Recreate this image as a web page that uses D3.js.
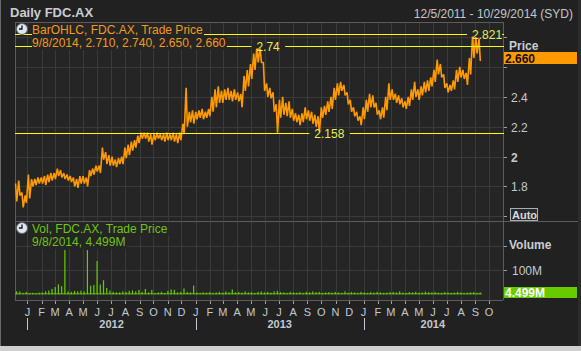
<!DOCTYPE html>
<html>
<head>
<meta charset="utf-8">
<script src="https://cdn.jsdelivr.net/npm/d3@7"></script>
<style>
  body { margin: 0; background: #212121; }
  svg { display: block; }
</style>
</head>
<body>
<div id="chart"></div>
<script>
// weekly high / low of the daily OHLC bars (week starting Monday)
const weekHigh = [
  1.82,1.84,1.76,1.74,1.88,1.85,1.85,1.86,1.86,1.87,
  1.88,1.89,1.89,1.92,1.91,1.89,1.88,1.87,1.86,1.85,
  1.87,1.87,1.86,1.91,1.92,1.94,1.94,2.06,2.03,2.01,
  2.00,1.98,1.99,2.00,2.06,2.08,2.10,2.11,2.14,2.16,
  2.16,2.16,2.15,2.15,2.16,2.15,2.15,2.16,2.15,2.16,
  2.15,2.16,2.22,2.46,2.30,2.31,2.30,2.31,2.32,2.30,
  2.32,2.40,2.45,2.47,2.44,2.45,2.46,2.44,2.45,2.43,
  2.42,2.54,2.58,2.62,2.69,2.74,2.73,2.63,2.49,2.46,
  2.43,2.35,2.38,2.40,2.36,2.37,2.32,2.29,2.28,2.29,
  2.33,2.31,2.30,2.28,2.27,2.33,2.34,2.37,2.40,2.46,
  2.49,2.50,2.48,2.43,2.38,2.33,2.30,2.27,2.33,2.38,
  2.42,2.41,2.36,2.31,2.33,2.40,2.49,2.45,2.42,2.41,
  2.39,2.37,2.40,2.45,2.50,2.45,2.47,2.50,2.51,2.53,
  2.58,2.65,2.62,2.55,2.49,2.48,2.51,2.58,2.60,2.58,
  2.56,2.66,2.821,2.80,2.79
];
const weekLow = [
  1.70,1.74,1.66,1.69,1.72,1.80,1.81,1.82,1.82,1.81,
  1.83,1.84,1.85,1.87,1.86,1.85,1.84,1.83,1.80,1.79,
  1.82,1.82,1.80,1.87,1.88,1.90,1.89,1.98,1.95,1.94,
  1.94,1.93,1.95,1.95,1.99,2.01,2.04,2.06,2.09,2.12,
  2.12,2.10,2.08,2.11,2.12,2.11,2.10,2.11,2.11,2.10,
  2.09,2.11,2.15,2.20,2.23,2.22,2.25,2.26,2.25,2.26,
  2.27,2.30,2.33,2.36,2.36,2.38,2.38,2.37,2.38,2.37,
  2.33,2.44,2.47,2.52,2.58,2.63,2.63,2.44,2.40,2.39,
  2.30,2.16,2.26,2.28,2.27,2.26,2.24,2.23,2.21,2.23,
  2.25,2.24,2.22,2.20,2.158,2.26,2.28,2.30,2.32,2.38,
  2.41,2.44,2.41,2.35,2.30,2.27,2.24,2.21,2.25,2.30,
  2.33,2.33,2.28,2.25,2.26,2.31,2.38,2.38,2.36,2.35,
  2.33,2.32,2.34,2.38,2.40,2.38,2.41,2.43,2.44,2.47,
  2.50,2.55,2.53,2.46,2.43,2.44,2.45,2.50,2.53,2.52,
  2.48,2.55,2.66,2.69,2.64
];
// largest daily volume of each week, millions
const weekVol = [
  12,12,6,10,5,6,5,7,8,12,
  15,22,30,41,33,182,12,10,14,12,
  15,12,182,35,38,137,40,58,26,15,
  10,8,8,12,10,14,16,12,18,10,
  22,8,18,6,8,10,6,14,20,18,
  8,10,24,10,8,36,8,6,8,7,
  9,6,8,10,7,12,9,20,8,10,
  7,12,8,9,6,10,12,8,10,7,
  12,14,9,8,6,10,8,7,9,6,
  10,8,12,9,10,6,8,9,7,10,
  8,6,12,7,9,8,6,10,8,6,
  9,7,10,8,6,7,9,10,8,12,
  7,6,9,8,10,7,8,11,9,8,
  10,7,6,9,8,6,7,10,8,6,
  7,8,9,6,8
];
const baseVol = 4; // typical daily volume, millions

const annoValues = [2.821, 2.74, 2.158];
const annoLabels = ["2.821", "2.74", "2.158"];
const annoDates = [new Date(2014, 7, 25), new Date(2013, 4, 13), new Date(2013, 8, 16)];

const priceTicks = [1.6, 1.8, 2.0, 2.2, 2.4, 2.6, 2.8];
const priceTickLabels = ["", "1.8", "2", "2.2", "2.4", "", ""];
const volTicks = [100, 200];
const volTickLabels = ["100M", ""];
const monthLetters = ["J","F","M","A","M","J","J","A","S","O","N","D"];

const titleText = "Daily FDC.AX";
const rangeText = "12/5/2011 - 10/29/2014 (SYD)";
const priceLegend = ["BarOHLC, FDC.AX, Trade Price", "9/8/2014, 2.710, 2.740, 2.650, 2.660"];
const volLegend = ["Vol, FDC.AX, Trade Price", "9/8/2014, 4.499M"];
const lastPrice = "2.660";
const lastVol = "4.499M";

const W = 581, H = 351;
const plotL = 15, plotR = 503;
const priceTop = 22, priceBot = 221, volBot = 300;
const font = "'Liberation Sans', Arial, sans-serif";

const startDate = new Date(2011, 11, 5), endDate = new Date(2014, 9, 29);
const weeks = d3.timeMonday.range(startDate, new Date(2014, 8, 9));

const x = d3.scaleTime().domain([startDate, endDate]).range([plotL, plotR - 1]);
const y = d3.scaleLinear().domain([1.569, 2.901]).range([priceBot, priceTop]);
const yv = d3.scaleLinear().domain([0, 300]).range([294.3, 221.4]);

const svg = d3.select("#chart").append("svg")
  .attr("width", W).attr("height", H)
  .style("font-family", font);

// window background and frame
svg.append("rect").attr("width", W).attr("height", H).attr("fill", "#212121");
svg.append("line").attr("x1", 0.5).attr("x2", 0.5).attr("y1", 0).attr("y2", 346)
  .attr("stroke", "#6a6a6a");
svg.append("rect").attr("x", 0).attr("y", 346).attr("width", W).attr("height", 5).attr("fill", "#cfcfcf");
svg.append("rect").attr("x", 578).attr("y", 0).attr("width", 3).attr("height", 346).attr("fill", "#2c2c2c");

svg.append("text").attr("x", 10).attr("y", 17)
  .attr("font-size", 13).attr("font-weight", "bold").attr("fill", "#c9cdd2")
  .text(titleText);
svg.append("text").attr("x", 573).attr("y", 18).attr("text-anchor", "end")
  .attr("font-size", 12).attr("fill", "#c2c6cb")
  .text(rangeText);

// plot panels
svg.append("rect").attr("x", plotL).attr("y", priceTop)
  .attr("width", plotR - plotL).attr("height", volBot - priceTop).attr("fill", "#252525");

const months = d3.timeMonth.range(startDate, endDate);
const grid = svg.append("g").attr("stroke", "#3a3a3a").attr("stroke-width", 1);
grid.selectAll(".vg").data(months).enter().append("line")
  .attr("x1", d => Math.round(x(d)) + 0.5).attr("x2", d => Math.round(x(d)) + 0.5)
  .attr("y1", priceTop).attr("y2", volBot);
grid.selectAll(".hg").data(priceTicks).enter().append("line")
  .attr("x1", plotL).attr("x2", plotR)
  .attr("y1", d => Math.round(y(d)) + 0.5).attr("y2", d => Math.round(y(d)) + 0.5);
grid.selectAll(".hv").data(volTicks).enter().append("line")
  .attr("x1", plotL).attr("x2", plotR)
  .attr("y1", d => Math.round(yv(d)) + 0.5).attr("y2", d => Math.round(yv(d)) + 0.5);

// frame lines
const frame = svg.append("g").attr("stroke", "#5c5c5c");
frame.append("line").attr("x1", plotL + 0.5).attr("x2", plotL + 0.5).attr("y1", priceTop).attr("y2", volBot);
frame.append("line").attr("x1", plotR + 0.5).attr("x2", plotR + 0.5).attr("y1", priceTop).attr("y2", volBot);
frame.append("line").attr("x1", plotL).attr("x2", plotR).attr("y1", priceTop + 0.5).attr("y2", priceTop + 0.5);
frame.append("line").attr("x1", plotL).attr("x2", 578).attr("y1", priceBot + 0.5).attr("y2", priceBot + 0.5);
frame.append("line").attr("x1", plotL).attr("x2", plotR).attr("y1", volBot + 0.5).attr("y2", volBot + 0.5);

// price: each week drawn as a high -> low stroke so the bars read as a dense jagged band
const weekW = d => x(d3.timeDay.offset(d, 7)) - x(d);
const pricePts = [];
weeks.forEach((d, i) => {
  pricePts.push([x(d) + 0.5, y(weekHigh[i])]);
  pricePts.push([x(d) + weekW(d) * 0.55, y(weekLow[i])]);
});
svg.append("path")
  .attr("d", d3.line()(pricePts))
  .attr("fill", "none")
  .attr("stroke", "#ff9900")
  .attr("stroke-width", 1.6)
  .attr("stroke-linejoin", "bevel");

// volume bars
const vol = svg.append("g").attr("fill", "#66cc00");
vol.selectAll(".vb").data(weeks).enter().append("rect")
  .attr("x", d => x(d)).attr("width", d => weekW(d))
  .attr("y", yv(baseVol)).attr("height", yv(0) - yv(baseVol));
vol.selectAll(".vs").data(weeks).enter().append("rect")
  .attr("x", d => x(d) + 1).attr("width", 1.2)
  .attr("y", (d, i) => yv(weekVol[i]))
  .attr("height", (d, i) => yv(0) - yv(weekVol[i]));

// annotation levels
const anno = svg.append("g");
annoValues.forEach((v, i) => {
  const yy = Math.round(y(v)) + 0.5;
  anno.append("line").attr("x1", plotL).attr("x2", plotR)
    .attr("y1", yy).attr("y2", yy).attr("stroke", "#ffff00");
  anno.append("line").attr("x1", plotR - 2).attr("x2", plotR + 1)
    .attr("y1", yy).attr("y2", yy).attr("stroke", "#ffff00");
  const bg = anno.append("rect").attr("fill", "#252525");
  const t = anno.append("text").attr("x", x(annoDates[i])).attr("y", yy + 4)
    .attr("font-size", 12).attr("fill", "#e8ec55").text(annoLabels[i]);
  const b = t.node().getBBox();
  const right = i === 0 ? plotR - 1 : b.x + b.width + 5;
  bg.attr("x", b.x - 5).attr("y", yy - 2).attr("width", right - b.x + 5).attr("height", 4);
});

// legends
function clock(cx, cy) {
  const g = svg.append("g");
  g.append("circle").attr("cx", cx).attr("cy", cy).attr("r", 5.5)
    .attr("fill", "#dfe6ee").attr("stroke", "#5a6470");
  g.append("path").attr("d", `M${cx},${cy - 3.5}V${cy}H${cx - 3}`)
    .attr("stroke", "#111").attr("stroke-width", 1.3).attr("fill", "none");
}
function legend(lines, y0, color) {
  lines.forEach((s, i) => {
    const bg = svg.append("rect").attr("fill", "#252525");
    const t = svg.append("text").attr("x", 32).attr("y", y0 + i * 13)
      .attr("font-size", 12).attr("fill", color).text(s);
    const b = t.node().getBBox();
    bg.attr("x", b.x).attr("y", b.y).attr("width", b.width + 1).attr("height", b.height);
  });
}
legend(priceLegend, 34, "#f29b1c");
clock(22, 29);
legend(volLegend, 233, "#6fc414");
clock(22, 228);

// right price axis
svg.append("text").attr("x", 509).attr("y", 50)
  .attr("font-size", 12).attr("font-weight", "bold").attr("fill", "#c9cdd2").text("Price");
const pa = svg.append("g");
pa.selectAll("line").data(priceTicks).enter().append("line")
  .attr("x1", plotR + 1).attr("x2", plotR + 4)
  .attr("y1", d => Math.round(y(d)) + 0.5).attr("y2", d => Math.round(y(d)) + 0.5)
  .attr("stroke", "#9aa0a6");
pa.selectAll("text").data(priceTicks).enter().append("text")
  .attr("x", 511).attr("y", d => y(d) + 5)
  .attr("font-size", 12).attr("fill", "#c3c9d0")
  .attr("font-weight", (d, i) => priceTickLabels[i] === "2" ? "bold" : "normal")
  .text((d, i) => priceTickLabels[i]);

svg.append("rect").attr("x", 504).attr("y", 52).attr("width", 73).attr("height", 12).attr("fill", "#ff9900");
svg.append("text").attr("x", 505).attr("y", 62.5)
  .attr("font-size", 12).attr("font-weight", "bold").attr("fill", "#111").text(lastPrice);

svg.append("rect").attr("x", 510.5).attr("y", 208.5).attr("width", 27).attr("height", 12)
  .attr("fill", "#2a2a2a").attr("stroke", "#a8aeb4");
svg.append("text").attr("x", 512).attr("y", 219)
  .attr("font-size", 11).attr("font-weight", "bold").attr("fill", "#d6dadf").text("Auto");

// right volume axis
svg.append("text").attr("x", 509).attr("y", 249)
  .attr("font-size", 12).attr("font-weight", "bold").attr("fill", "#c9cdd2").text("Volume");
svg.selectAll(".vt").data(volTicks).enter().append("line")
  .attr("x1", plotR + 1).attr("x2", plotR + 4)
  .attr("y1", d => Math.round(yv(d)) + 0.5).attr("y2", d => Math.round(yv(d)) + 0.5)
  .attr("stroke", "#9aa0a6");
svg.selectAll(".vtl").data(volTicks).enter().append("text")
  .attr("x", 512).attr("y", d => yv(d) + 5)
  .attr("font-size", 12).attr("fill", "#c3c9d0")
  .text((d, i) => volTickLabels[i]);
svg.append("rect").attr("x", 504).attr("y", 287).attr("width", 73).attr("height", 11).attr("fill", "#66cc00");
svg.append("text").attr("x", 505).attr("y", 297)
  .attr("font-size", 12).attr("font-weight", "bold").attr("fill", "#ffffff").text(lastVol);

// time axis
const xa = svg.append("g");
xa.selectAll("line").data(months).enter().append("line")
  .attr("x1", d => Math.round(x(d)) + 0.5).attr("x2", d => Math.round(x(d)) + 0.5)
  .attr("y1", 301).attr("y2", 304).attr("stroke", "#9aa0a6");
xa.selectAll("text").data(months).enter().append("text")
  .attr("x", d => x(d)).attr("y", 316).attr("text-anchor", "middle")
  .attr("font-size", 11).attr("fill", "#c3c9d0")
  .text(d => monthLetters[d.getMonth()]);

const years = d3.timeYear.range(startDate, endDate);
xa.selectAll(".ys").data(years).enter().append("line")
  .attr("x1", d => Math.round(x(d)) + 0.5).attr("x2", d => Math.round(x(d)) + 0.5)
  .attr("y1", 318).attr("y2", 330).attr("stroke", "#c3c9d0");
xa.selectAll(".yl").data(years).enter().append("text")
  .attr("x", d => (x(d) + x(d3.min([d3.timeYear.offset(d, 1), endDate]))) / 2)
  .attr("y", 328).attr("text-anchor", "middle")
  .attr("font-size", 11).attr("font-weight", "bold").attr("fill", "#c3c9d0")
  .text(d => d.getFullYear());
</script>
</body>
</html>
